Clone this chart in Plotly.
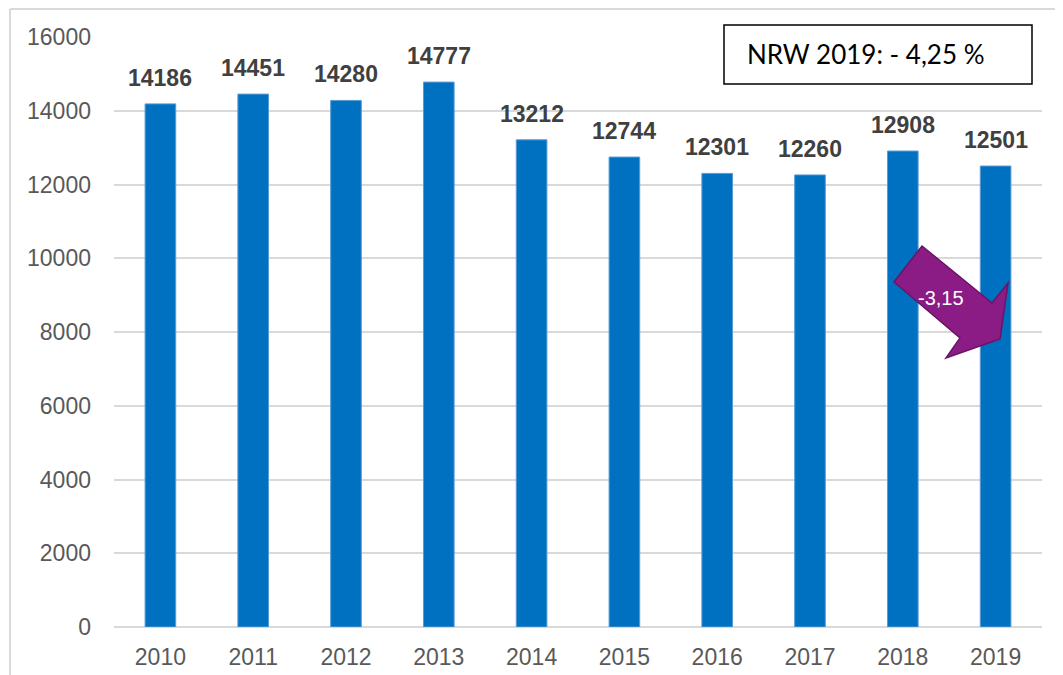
import plotly.graph_objects as go

years = ["2010", "2011", "2012", "2013", "2014", "2015", "2016", "2017", "2018", "2019"]
values = [14186, 14451, 14280, 14777, 13212, 12744, 12301, 12260, 12908, 12501]
y_ticks = [0, 2000, 4000, 6000, 8000, 10000, 12000, 14000, 16000]
box_text = "NRW 2019: - 4,25 %"
arrow_text = "-3,15"

OFF = 8  # body margin of the html page
W, H = 1055, 667
L, R, T, B = 106, 21, 29, 48
PW, PH = W - L - R, H - T - B


def px(x):
    return (x - OFF - L) / PW


def py(y):
    return (H - B - (y - OFF)) / PH


fig = go.Figure()
fig.add_trace(go.Bar(
    x=years, y=values,
    marker=dict(color="#0070C0", line=dict(color="#5B9BD5", width=1)),
    width=0.33,
    hoverinfo="x+y",
))

for i, v in enumerate(values):
    fig.add_annotation(
        x=i, y=v, text=f"<b>{v}</b>", showarrow=False,
        yanchor="bottom", yshift=11,
        font=dict(family="Liberation Sans, Arial", size=23, color="#404040"),
    )

# outer frame (top and left edges)
fig.add_shape(type="line", xref="paper", yref="paper",
              x0=px(10), x1=px(1070), y0=py(9), y1=py(9),
              line=dict(color="#D9D9D9", width=2), layer="below")
fig.add_shape(type="line", xref="paper", yref="paper",
              x0=px(10), x1=px(10), y0=py(9), y1=py(680),
              line=dict(color="#D9D9D9", width=2), layer="below")

# NRW box
fig.add_shape(type="rect", xref="paper", yref="paper",
              x0=px(724), x1=px(1032), y0=py(84), y1=py(25),
              line=dict(color="#000000", width=1.5), fillcolor="#FFFFFF", layer="above")
fig.add_annotation(xref="paper", yref="paper", x=px(745), y=py(54),
                   xanchor="left", yanchor="middle", showarrow=False,
                   text=box_text,
                   font=dict(family="Lato, Carlito, Calibri, sans-serif", size=26, color="#000000"))

# purple arrow
pts = [(922, 246), (992, 303), (1008, 283), (1000, 339), (946, 358), (960, 338), (894, 282)]
path = "M " + " L ".join(f"{px(a)},{py(b)}" for a, b in pts) + " Z"
fig.add_shape(type="path", xref="paper", yref="paper", path=path,
              fillcolor="#8B1C85", line=dict(color="#6A1466", width=1.5), layer="above")
fig.add_annotation(xref="paper", yref="paper", x=px(941), y=py(298),
                   xanchor="center", yanchor="middle",
                   showarrow=False, text=arrow_text,
                   font=dict(family="Liberation Sans, Arial", size=20, color="#FFFFFF"))

fig.update_layout(
    width=W, height=H,
    margin=dict(l=L, r=R, t=T, b=B, pad=0, autoexpand=False),
    paper_bgcolor="#FFFFFF", plot_bgcolor="#FFFFFF",
    showlegend=False,
    font=dict(family="Liberation Sans, Arial", color="#595959", size=18),
)
fig.update_xaxes(
    type="category", range=[-0.5, len(years) - 0.5], automargin=False,
    showgrid=False, showline=False, zeroline=False,
    ticks="", tickfont=dict(size=23, color="#595959"), ticklabelstandoff=14,
)
fig.update_yaxes(
    range=[0, 16000], tickvals=y_ticks, ticktext=[str(t) for t in y_ticks],
    automargin=False,
    showgrid=True, gridcolor="#D9D9D9", gridwidth=1.5,
    zeroline=True, zerolinecolor="#D9D9D9", zerolinewidth=2,
    showline=False, ticks="", tickfont=dict(size=23, color="#595959"),
    ticklabelstandoff=22,
)

fig.write_html("out.html")
